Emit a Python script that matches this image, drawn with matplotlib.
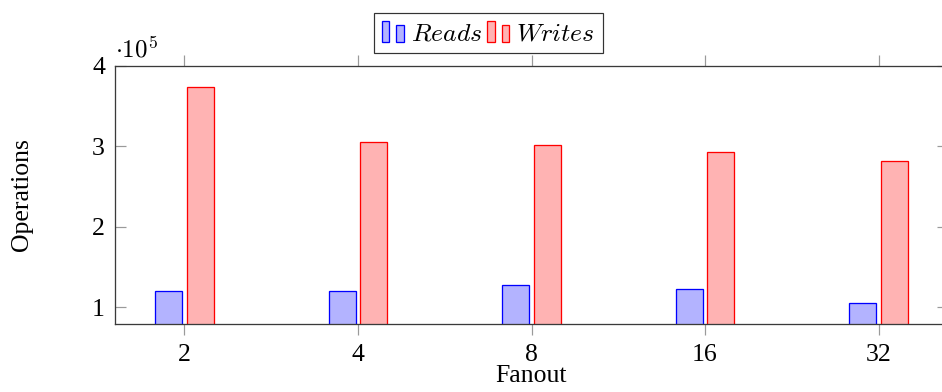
import numpy as np
import matplotlib
matplotlib.use("Agg")
import matplotlib.pyplot as plt
from matplotlib.container import BarContainer
from matplotlib.legend_handler import HandlerBase
from matplotlib.patches import Rectangle
from matplotlib.ticker import FuncFormatter, FixedLocator

plt.rcParams['font.family'] = 'serif'
plt.rcParams['font.serif'] = ['Liberation Serif', 'DejaVu Serif']
plt.rcParams['mathtext.fontset'] = 'cm'

fanout = ['2', '4', '8', '16', '32']
reads = [120000, 120000, 128000, 123000, 105000]
writes = [373000, 305000, 301500, 293000, 281000]
yticks = [100000, 200000, 300000, 400000]

PX = 72.0 / 100  # one pixel in points at dpi=100


class BarPairHandler(HandlerBase):
    # two little bars side by side, like the pgfplots ybar legend
    def create_artists(self, legend, orig_handle, xdescent, ydescent,
                       width, height, fontsize, trans):
        p = orig_handle.patches[0]
        fc = p.get_facecolor()
        ec = p.get_edgecolor()
        bw = width / 3.0
        x0 = -xdescent
        y0 = -ydescent
        r1 = Rectangle((x0, y0), bw, height, facecolor=fc, edgecolor=ec,
                       linewidth=p.get_linewidth(), transform=trans)
        r2 = Rectangle((x0 + 2 * bw, y0), bw, height * 0.78, facecolor=fc,
                       edgecolor=ec, linewidth=p.get_linewidth(), transform=trans)
        return [r1, r2]


fig = plt.figure(figsize=(9.42, 3.92), dpi=100)
ax = fig.add_axes([115 / 942, 1 - 324 / 392, 833 / 942, 258.3 / 392])

x = np.arange(len(fanout))
bw = 0.154
off = 0.091
b1 = ax.bar(x - off, reads, bw, color='#b3b3ff', edgecolor='blue',
            linewidth=1.3 * PX, label='$Reads$')
b2 = ax.bar(x + off, writes, bw, color='#ffb3b3', edgecolor='red',
            linewidth=1.3 * PX, label='$Writes$')

ax.set_xlim(-0.4, 4.4)
ax.set_ylim(78900, 400000)
ax.set_xticks(x)
ax.set_xticklabels(fanout)
ax.yaxis.set_major_locator(FixedLocator(yticks))
ax.yaxis.set_major_formatter(FuncFormatter(lambda v, pos: '%d' % round(v / 1e5)))

for s in ax.spines.values():
    s.set_color('#3a3a3a')
    s.set_linewidth(1.3 * PX)

ax.tick_params(axis='x', direction='out', top=True, length=11 * PX,
               width=1.2 * PX, color='#9a9a9a', labelsize=18.5, pad=9 * PX)
ax.tick_params(axis='y', direction='in', right=True, length=11 * PX,
               width=1.2 * PX, color='#9a9a9a', labelsize=18.5, pad=10 * PX)

ax.set_xlabel('Fanout', fontsize=18.5)
ax.xaxis.set_label_coords(0.5, -0.158)
ax.set_ylabel('Operations', fontsize=18.5)
ax.yaxis.set_label_coords(-0.099, 0.5)

fig.text(115 / 942, 1 - 57 / 392, r'$\cdot 10^5$', fontsize=18, ha='left',
         va='baseline')

leg = fig.legend(handles=[b1, b2], handler_map={BarContainer: BarPairHandler()},
                 loc='upper center', bbox_to_anchor=(488.5 / 942, 1 - 13 / 392),
                 ncol=2, fontsize=18.5, frameon=True, fancybox=False,
                 handlelength=0.85, handleheight=0.92, handletextpad=0.28,
                 columnspacing=0.2, borderpad=0.3, borderaxespad=0)
leg.get_frame().set_edgecolor('black')
leg.get_frame().set_linewidth(1.2 * PX)

fig.savefig('out.png', dpi=100)
